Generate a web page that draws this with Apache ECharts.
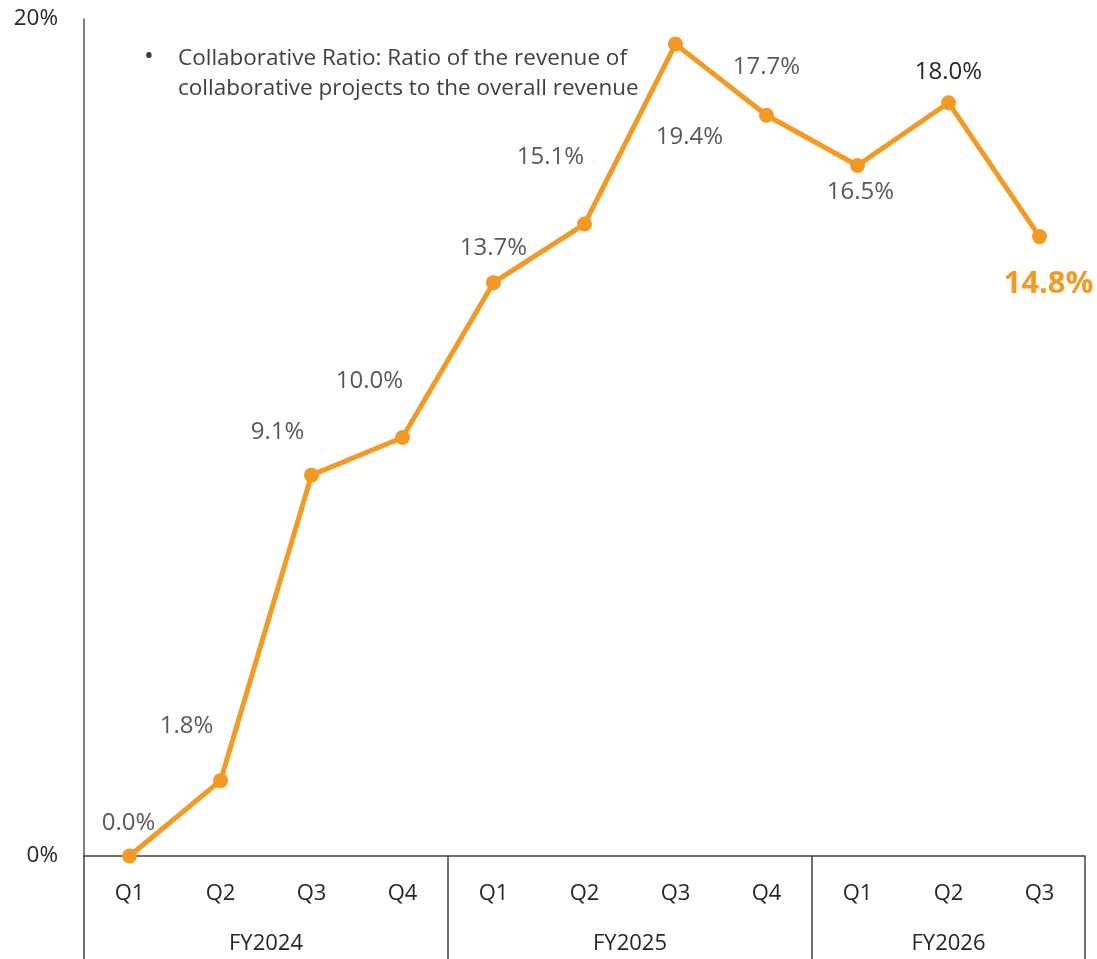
<!DOCTYPE html>
<html>
<head>
<meta charset="utf-8">
<script src="https://cdn.jsdelivr.net/npm/echarts@6/dist/echarts.min.js"></script>
<style>
html,body{margin:0;padding:0;background:#fff;}
#chart{width:1097px;height:959px;}
</style>
</head>
<body>
<div id="chart"></div>
<script>
// ---- data ----
const quarters = ['Q1','Q2','Q3','Q4','Q1','Q2','Q3','Q4','Q1','Q2','Q3'];
const fiscalYears = ['FY2024','FY2025','FY2026'];
const yearSizes = [4, 4, 3];
const ratioValues = [0.0, 1.8, 9.1, 10.0, 13.7, 15.1, 19.4, 17.7, 16.5, 18.0, 14.8];
const yTicks = [0, 20];
const noteLines = ['Collaborative Ratio: Ratio of the revenue of', 'collaborative projects to the overall revenue'];

// ---- styling ----
const FONT = 'Open Sans';
const ORANGE = '#F39A25';
const GREY = '#595959';
const labelOffsets = [[-1,-33],[-34,-55],[-34,-43],[-33,-56],[0,-34],[-34,-67],[14,93],[0,-48],[3,27],[0,-31],[9,48]];

// half-step axis for the year grouping
const halfCats = [];
const tickIdx = [0];
const labelIdx = {};
let pos = 0;
fiscalYears.forEach((fy, i) => {
  labelIdx[pos + yearSizes[i]] = fy; // center in half-steps
  pos += yearSizes[i] * 2;
  tickIdx.push(pos);
});
for (let i = 0; i <= pos; i++) halfCats.push(labelIdx[i] || '');

const seriesData = ratioValues.map((v, i) => {
  const last = i === ratioValues.length - 1;
  const dark = i === 9;
  return {
    value: v,
    label: {
      show: true,
      position: 'inside',
      offset: labelOffsets[i],
      align: 'center',
      verticalAlign: 'middle',
      formatter: v.toFixed(1) + '%',
      color: last ? ORANGE : (dark ? '#262626' : GREY),
      fontSize: last ? 31 : 24,
      fontWeight: last ? 'bold' : 'normal',
      fontFamily: FONT
    }
  };
});

const chart = echarts.init(document.getElementById('chart'));
chart.setOption({
  animation: false,
  backgroundColor: '#fff',
  grid: { left: 84, right: 12, top: 19, bottom: 103, containLabel: false },
  title: [
    { text: '•', left: 139, top: 39, textStyle: { fontFamily: FONT, fontSize: 26, fontWeight: 'normal', color: '#404040' } },
    { text: noteLines.join('\n'), left: 173, top: 39, textStyle: { fontFamily: FONT, fontSize: 22.5, fontWeight: 'normal', color: '#404040', lineHeight: 30 } }
  ],
  xAxis: [
    {
      type: 'category',
      data: quarters,
      boundaryGap: true,
      axisLine: { show: true, lineStyle: { color: '#404040', width: 1.5 } },
      axisTick: { show: false },
      axisLabel: { margin: 27, fontSize: 22, fontFamily: FONT, color: '#262626' }
    },
    {
      type: 'category',
      data: halfCats,
      boundaryGap: false,
      position: 'bottom',
      axisLine: { show: false },
      axisTick: {
        show: true,
        length: 103,
        interval: (idx) => tickIdx.indexOf(idx) >= 0,
        lineStyle: { color: '#404040', width: 1.5 }
      },
      axisLabel: {
        show: true,
        margin: 77,
        interval: (idx, val) => val !== '',
        fontSize: 22, fontFamily: FONT, color: '#262626'
      },
      splitLine: { show: false }
    }
  ],
  yAxis: {
    type: 'value',
    min: yTicks[0],
    max: yTicks[yTicks.length - 1],
    interval: yTicks[1] - yTicks[0],
    axisLine: { show: true, lineStyle: { color: GREY, width: 1.5 } },
    axisTick: { show: false },
    splitLine: { show: false },
    axisLabel: { margin: 26, fontSize: 22.5, fontFamily: FONT, color: '#262626', formatter: '{value}%' }
  },
  series: [{
    type: 'line',
    xAxisIndex: 0,
    data: seriesData,
    symbol: 'circle',
    symbolSize: 15,
    itemStyle: { color: ORANGE },
    lineStyle: { color: ORANGE, width: 5 },
    z: 5
  }]
});
</script>
</body>
</html>
